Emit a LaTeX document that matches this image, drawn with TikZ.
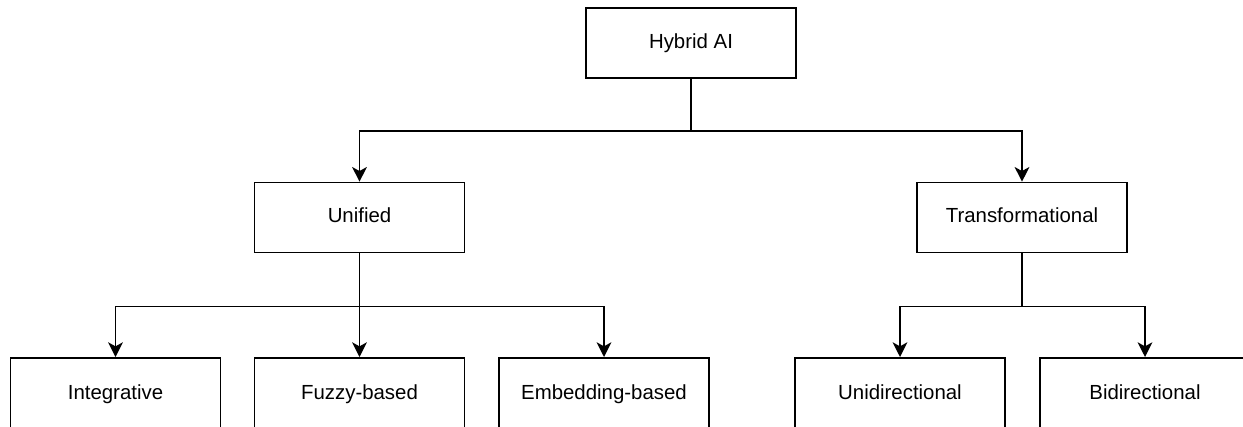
\documentclass[tikz,border=0pt]{standalone}
\usepackage{fontspec}
\setmainfont{Liberation Sans}
\usetikzlibrary{arrows.meta}
\begin{document}
\begin{tikzpicture}[x=0.75pt,y=-0.75pt,
  box/.style={draw, line width=1.2pt, minimum width=157.5pt, minimum height=52.5pt, inner sep=0pt, fill=white, text height=11pt, text depth=3.2pt, font=\fontsize{15.3}{18}\selectfont},
  leaf/.style={box, anchor=north, minimum height=60pt, text height=11pt, text depth=9pt},
  conn/.style={line width=1.2pt, -{Stealth[length=11pt,width=11pt,inset=3pt]}}]
\useasboundingbox (0,0) rectangle (1243,426);
\clip (0,0) rectangle (1243,426);
\node[box] (h) at (691,43) {Hybrid AI};
\node[box] (u) at (359.5,217.5) {Unified};
\node[box] (t) at (1022,217.5) {Transformational};
\node[leaf] (i) at (115.5,357) {Integrative};
\node[leaf] (f) at (359.5,357) {Fuzzy-based};
\node[leaf] (e) at (604,357) {Embedding-based};
\node[leaf] (ud) at (900,357) {Unidirectional};
\node[leaf] (b) at (1145,357) {Bidirectional};
\draw[conn] (h.south) -- ++(0,52) -| (u.north);
\draw[conn] (h.south) -- ++(0,52) -| (t.north);
\draw[conn] (u.south) -- ++(0,53) -| (i.north);
\draw[conn] (u.south) -- (f.north);
\draw[conn] (u.south) -- ++(0,53) -| (e.north);
\draw[conn] (t.south) -- ++(0,53) -| (ud.north);
\draw[conn] (t.south) -- ++(0,53) -| (b.north);
\end{tikzpicture}
\end{document}
